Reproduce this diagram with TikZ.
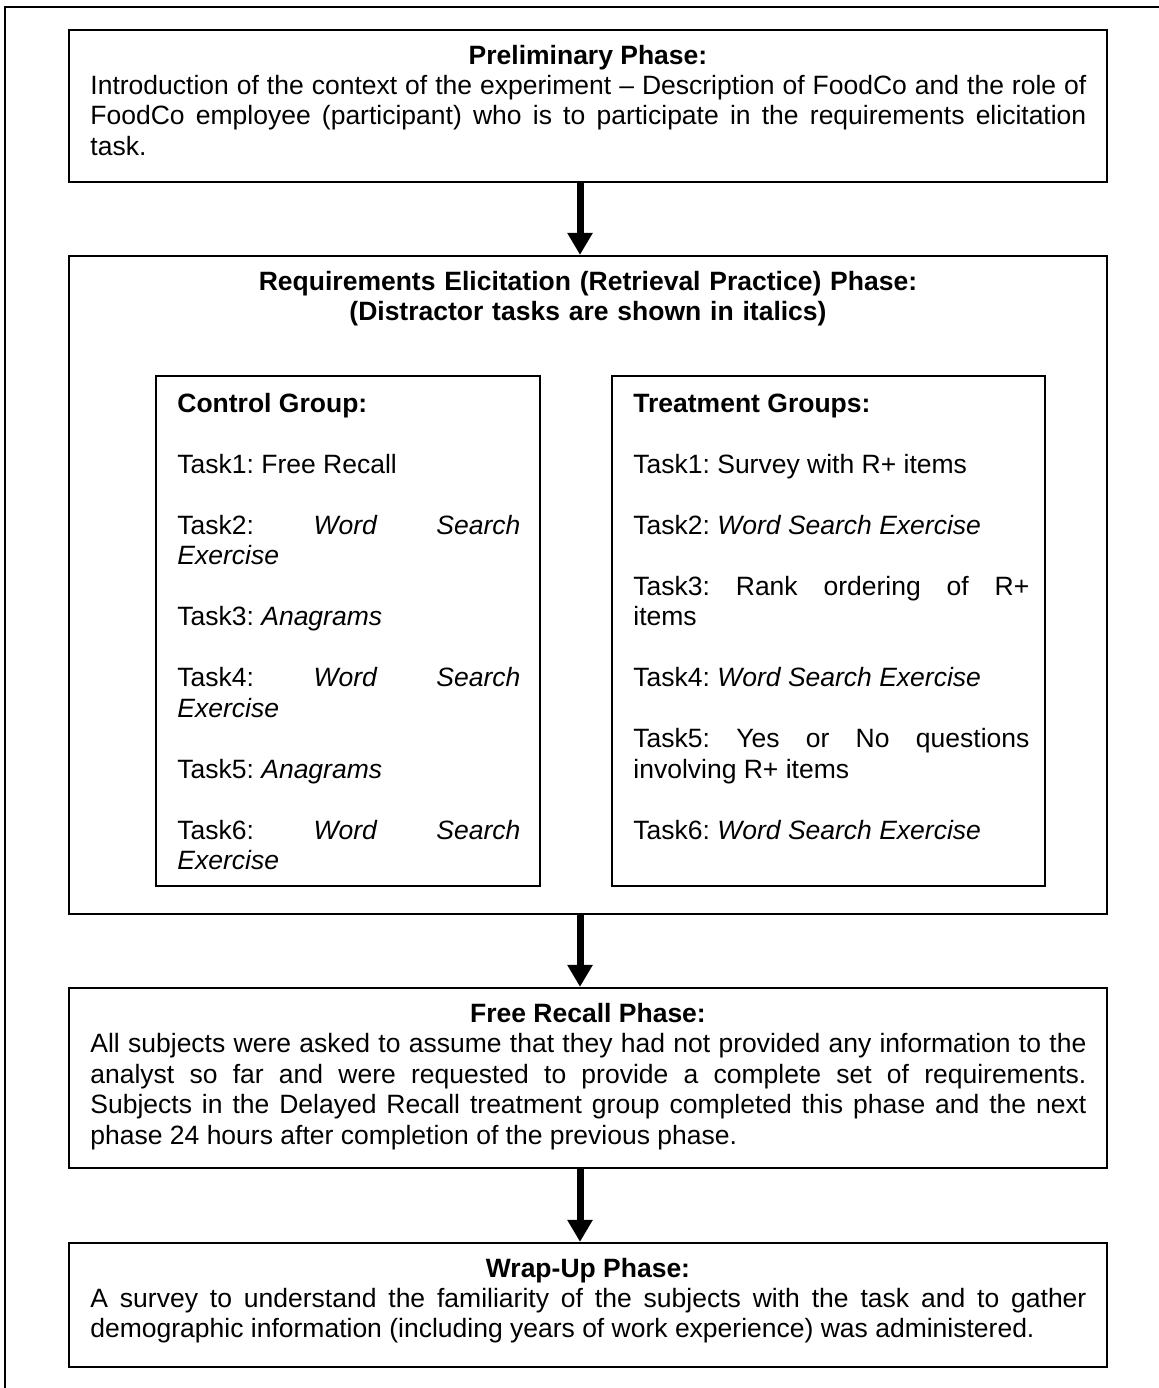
\documentclass[tikz,border=0pt]{standalone}
\usepackage{fontspec}
\setmainfont{Liberation Sans}
\usetikzlibrary{arrows.meta, fit}
\hyphenpenalty=10000
\frenchspacing

% blank line between two tasks
\newcommand{\tskip}{\par\vspace{15.25pt}}

\tikzset{
  phasebox/.style={draw, line width=1.1pt, inner sep=0pt},
  phasetitle/.style={anchor=base, inner sep=0pt, align=center,
    font=\fontsize{13.25pt}{15.25pt}\selectfont\bfseries},
  phasetext/.style={anchor=base west, inner sep=0pt, align=justify,
    font=\fontsize{13.25pt}{15.25pt}\selectfont},
  flow/.style={line width=3.5pt, -{Triangle[width=12pt, length=11pt]}}
}

\begin{document}
\begin{tikzpicture}[x=0.5pt, y=-0.5pt]
        \useasboundingbox (0,0) rectangle (1159,1388);
        \draw[line width=1.35pt] (5,1388) -- (5,7) -- (1159,7);

        % boxes
        \node[phasebox, fit={(69,30) (1107,182)}]    (prelim) {};
        \node[phasebox, fit={(69,256) (1107,914)}]   (elicit) {};
        \node[phasebox, fit={(156,376) (540,886)}]   (control) {};
        \node[phasebox, fit={(612,376) (1045,886)}]  (treat) {};
        \node[phasebox, fit={(69,988) (1107,1168)}]  (recall) {};
        \node[phasebox, fit={(69,1243) (1107,1367)}] (wrapup) {};

        % preliminary
        \node[phasetitle] (prelimtitle) at (588,64) {Preliminary Phase:};
        \node[phasetext, text width=498pt] (prelimtext) at (90,94)
          {Introduction of the context of the experiment -- Description of FoodCo and the role of\linebreak
           FoodCo employee (participant) who is to participate in the requirements elicitation\linebreak
           task.};

        % elicitation
        \node[phasetitle, text width=498pt] (elicittitle) at (588,290)
          {Requirements Elicitation (Retrieval Practice) Phase:\\(Distractor tasks are shown in italics)};
        \node[phasetext, text width=171.5pt] (controltext) at (177,412)
          {\textbf{Control Group:}\tskip
           Task1: Free Recall\tskip
           Task2: \textit{Word Search}\linebreak \textit{Exercise}\tskip
           Task3: \textit{Anagrams}\tskip
           Task4: \textit{Word Search}\linebreak \textit{Exercise}\tskip
           Task5: \textit{Anagrams}\tskip
           Task6: \textit{Word Search}\linebreak \textit{Exercise}};
        \node[phasetext, text width=198pt] (treattext) at (633,412)
          {\textbf{Treatment Groups:}\tskip
           Task1: Survey with R+ items\tskip
           Task2: \textit{Word Search Exercise}\tskip
           Task3: Rank ordering of R+\linebreak items\tskip
           Task4: \textit{Word Search Exercise}\tskip
           Task5: Yes or No questions\linebreak involving R+ items\tskip
           Task6: \textit{Word Search Exercise}};

        % free recall
        \node[phasetitle] (recalltitle) at (588,1022) {Free Recall Phase:};
        \node[phasetext, text width=498pt] (recalltext) at (90,1052.5)
          {All subjects were asked to assume that they had not provided any information to the\linebreak
           analyst so far and were requested to provide a complete set of requirements.\linebreak
           Subjects in the Delayed Recall treatment group completed this phase and the next\linebreak
           phase 24 hours after completion of the previous phase.};

        % wrap-up
        \node[phasetitle] (wrapuptitle) at (588,1277) {Wrap-Up Phase:};
        \node[phasetext, text width=498pt] (wrapuptext) at (90,1307)
          {A survey to understand the familiarity of the subjects with the task and to gather\linebreak
           demographic information (including years of work experience) was administered.};

        % arrows
        \draw[flow] ([xshift=-4pt]prelim.south) -- ([xshift=-4pt]elicit.north);
        \draw[flow] ([xshift=-4pt]elicit.south) -- ([xshift=-4pt]recall.north);
        \draw[flow] ([xshift=-4pt]recall.south) -- ([xshift=-4pt]wrapup.north);
      \end{tikzpicture}
\end{document}
